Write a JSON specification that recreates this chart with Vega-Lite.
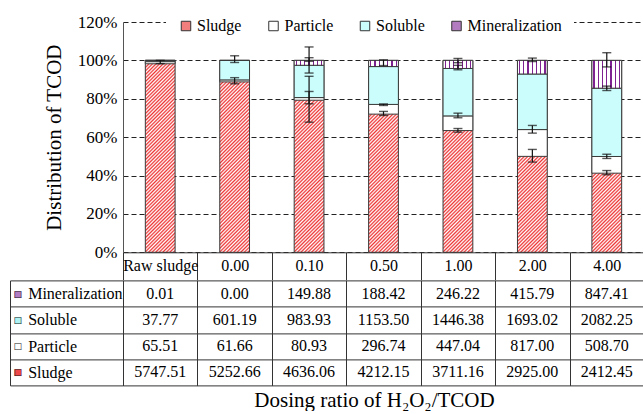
{
  "$schema": "https://vega.github.io/schema/vega-lite/v6.json",
  "padding": {"left": 9, "top": 6, "right": 0, "bottom": 0},
  "background": "white",
  "config": {
    "view": {"stroke": null},
    "font": "'Liberation Serif', 'Times New Roman', serif",
    "axis": {"labelFont": "'Liberation Serif', 'Times New Roman', serif", "titleFont": "'Liberation Serif', 'Times New Roman', serif", "labelColor": "#000", "titleColor": "#000", "titleFontWeight": "normal", "labelOverlap": false},
    "legend": {"labelFont": "'Liberation Serif', 'Times New Roman', serif"},
    "text": {"font": "'Liberation Serif', 'Times New Roman', serif"}
  },
  "datasets": {
    "dist": [
      {"dose": "Raw sludge", "component": "Sludge", "order": 1, "pct": 98.23, "value": 5747.51},
      {"dose": "Raw sludge", "component": "Particle", "order": 2, "pct": 1.12, "value": 65.51},
      {"dose": "Raw sludge", "component": "Soluble", "order": 3, "pct": 0.65, "value": 37.77},
      {"dose": "Raw sludge", "component": "Mineralization", "order": 4, "pct": 0.0, "value": 0.01},
      {"dose": "0.00", "component": "Sludge", "order": 1, "pct": 88.79, "value": 5252.66},
      {"dose": "0.00", "component": "Particle", "order": 2, "pct": 1.04, "value": 61.66},
      {"dose": "0.00", "component": "Soluble", "order": 3, "pct": 10.16, "value": 601.19},
      {"dose": "0.00", "component": "Mineralization", "order": 4, "pct": 0.0, "value": 0.0},
      {"dose": "0.10", "component": "Sludge", "order": 1, "pct": 79.24, "value": 4636.06},
      {"dose": "0.10", "component": "Particle", "order": 2, "pct": 1.38, "value": 80.93},
      {"dose": "0.10", "component": "Soluble", "order": 3, "pct": 16.82, "value": 983.93},
      {"dose": "0.10", "component": "Mineralization", "order": 4, "pct": 2.56, "value": 149.88},
      {"dose": "0.50", "component": "Sludge", "order": 1, "pct": 71.99, "value": 4212.15},
      {"dose": "0.50", "component": "Particle", "order": 2, "pct": 5.07, "value": 296.74},
      {"dose": "0.50", "component": "Soluble", "order": 3, "pct": 19.72, "value": 1153.5},
      {"dose": "0.50", "component": "Mineralization", "order": 4, "pct": 3.22, "value": 188.42},
      {"dose": "1.00", "component": "Sludge", "order": 1, "pct": 63.43, "value": 3711.16},
      {"dose": "1.00", "component": "Particle", "order": 2, "pct": 7.64, "value": 447.04},
      {"dose": "1.00", "component": "Soluble", "order": 3, "pct": 24.72, "value": 1446.38},
      {"dose": "1.00", "component": "Mineralization", "order": 4, "pct": 4.21, "value": 246.22},
      {"dose": "2.00", "component": "Sludge", "order": 1, "pct": 49.99, "value": 2925.0},
      {"dose": "2.00", "component": "Particle", "order": 2, "pct": 13.96, "value": 817.0},
      {"dose": "2.00", "component": "Soluble", "order": 3, "pct": 28.94, "value": 1693.02},
      {"dose": "2.00", "component": "Mineralization", "order": 4, "pct": 7.11, "value": 415.79},
      {"dose": "4.00", "component": "Sludge", "order": 1, "pct": 41.23, "value": 2412.45},
      {"dose": "4.00", "component": "Particle", "order": 2, "pct": 8.69, "value": 508.7},
      {"dose": "4.00", "component": "Soluble", "order": 3, "pct": 35.59, "value": 2082.25},
      {"dose": "4.00", "component": "Mineralization", "order": 4, "pct": 14.48, "value": 847.41}
    ],
    "err": [
      {"dose": "Raw sludge", "lo": 98.3, "hi": 100.0},
      {"dose": "0.00", "lo": 87.8, "hi": 91.0},
      {"dose": "0.00", "lo": 98.9, "hi": 102.4},
      {"dose": "0.10", "lo": 67.8, "hi": 91.7},
      {"dose": "0.10", "lo": 77.4, "hi": 83.8},
      {"dose": "0.10", "lo": 93.4, "hi": 101.4},
      {"dose": "0.10", "lo": 99.5, "hi": 107.0},
      {"dose": "0.50", "lo": 71.3, "hi": 73.4},
      {"dose": "0.50", "lo": 76.5, "hi": 77.3},
      {"dose": "0.50", "lo": 97.3, "hi": 100.3},
      {"dose": "1.00", "lo": 62.6, "hi": 64.5},
      {"dose": "1.00", "lo": 70.1, "hi": 72.5},
      {"dose": "1.00", "lo": 95.1, "hi": 97.4},
      {"dose": "1.00", "lo": 98.8, "hi": 101.0},
      {"dose": "2.00", "lo": 47.0, "hi": 53.6},
      {"dose": "2.00", "lo": 62.1, "hi": 66.1},
      {"dose": "2.00", "lo": 99.4, "hi": 101.2},
      {"dose": "4.00", "lo": 40.4, "hi": 42.6},
      {"dose": "4.00", "lo": 48.9, "hi": 51.1},
      {"dose": "4.00", "lo": 84.3, "hi": 86.6},
      {"dose": "4.00", "lo": 96.6, "hi": 104.0}
    ]
  },
  "spacing": 27.4,
  "bounds": "flush",
  "resolve": {"scale": {"color": "independent"}, "legend": {"color": "independent"}},
  "vconcat": [
    {
      "width": 521,
      "height": 230.3,
      "data": {"name": "dist"},
      "encoding": {
        "x": {
          "field": "dose", "type": "nominal",
          "scale": {"domain": ["Raw sludge", "0.00", "0.10", "0.50", "1.00", "2.00", "4.00"], "paddingInner": 0, "paddingOuter": 0},
          "axis": {"title": null, "labelFontSize": 16, "labelAngle": 0, "tickBand": "extent", "tickSize": 27.4, "tickColor": "#333", "tickWidth": 1, "domainColor": "#333", "domainWidth": 1, "labelPadding": -22.5, "grid": false}
        }
      },
      "layer": [
        {
          "transform": [
            {"joinaggregate": [{"op": "sum", "field": "pct", "as": "total"}], "groupby": ["dose"]},
            {"filter": "datum.component === 'Sludge'"}
          ],
          "mark": {
            "type": "bar",
            "width": {"band": 0.4},
            "stroke": "#3a3a3a",
            "strokeWidth": 1,
            "fill": {
              "gradient": "linear", "x1": 0, "y1": 0, "x2": 0.175, "y2": 1.128,
              "stops": [
                {"offset": 0, "color": "#ee3434"}, {"offset": 0.008, "color": "#ffffff"}, {"offset": 0.016, "color": "#ee3434"}, {"offset": 0.024, "color": "#ffffff"}, {"offset": 0.032, "color": "#ee3434"}, {"offset": 0.04, "color": "#ffffff"}, {"offset": 0.048, "color": "#ee3434"}, {"offset": 0.056, "color": "#ffffff"}, {"offset": 0.064, "color": "#ee3434"}, {"offset": 0.072, "color": "#ffffff"},
                {"offset": 0.08, "color": "#ee3434"}, {"offset": 0.088, "color": "#ffffff"}, {"offset": 0.096, "color": "#ee3434"}, {"offset": 0.104, "color": "#ffffff"}, {"offset": 0.112, "color": "#ee3434"}, {"offset": 0.12, "color": "#ffffff"}, {"offset": 0.128, "color": "#ee3434"}, {"offset": 0.136, "color": "#ffffff"}, {"offset": 0.144, "color": "#ee3434"}, {"offset": 0.152, "color": "#ffffff"},
                {"offset": 0.16, "color": "#ee3434"}, {"offset": 0.168, "color": "#ffffff"}, {"offset": 0.176, "color": "#ee3434"}, {"offset": 0.184, "color": "#ffffff"}, {"offset": 0.192, "color": "#ee3434"}, {"offset": 0.2, "color": "#ffffff"}, {"offset": 0.208, "color": "#ee3434"}, {"offset": 0.216, "color": "#ffffff"}, {"offset": 0.224, "color": "#ee3434"}, {"offset": 0.232, "color": "#ffffff"},
                {"offset": 0.24, "color": "#ee3434"}, {"offset": 0.248, "color": "#ffffff"}, {"offset": 0.256, "color": "#ee3434"}, {"offset": 0.264, "color": "#ffffff"}, {"offset": 0.272, "color": "#ee3434"}, {"offset": 0.28, "color": "#ffffff"}, {"offset": 0.288, "color": "#ee3434"}, {"offset": 0.296, "color": "#ffffff"}, {"offset": 0.304, "color": "#ee3434"}, {"offset": 0.312, "color": "#ffffff"},
                {"offset": 0.32, "color": "#ee3434"}, {"offset": 0.328, "color": "#ffffff"}, {"offset": 0.336, "color": "#ee3434"}, {"offset": 0.344, "color": "#ffffff"}, {"offset": 0.352, "color": "#ee3434"}, {"offset": 0.36, "color": "#ffffff"}, {"offset": 0.368, "color": "#ee3434"}, {"offset": 0.376, "color": "#ffffff"}, {"offset": 0.384, "color": "#ee3434"}, {"offset": 0.392, "color": "#ffffff"},
                {"offset": 0.4, "color": "#ee3434"}, {"offset": 0.408, "color": "#ffffff"}, {"offset": 0.416, "color": "#ee3434"}, {"offset": 0.424, "color": "#ffffff"}, {"offset": 0.432, "color": "#ee3434"}, {"offset": 0.44, "color": "#ffffff"}, {"offset": 0.448, "color": "#ee3434"}, {"offset": 0.456, "color": "#ffffff"}, {"offset": 0.464, "color": "#ee3434"}, {"offset": 0.472, "color": "#ffffff"},
                {"offset": 0.48, "color": "#ee3434"}, {"offset": 0.488, "color": "#ffffff"}, {"offset": 0.496, "color": "#ee3434"}, {"offset": 0.504, "color": "#ffffff"}, {"offset": 0.512, "color": "#ee3434"}, {"offset": 0.52, "color": "#ffffff"}, {"offset": 0.528, "color": "#ee3434"}, {"offset": 0.536, "color": "#ffffff"}, {"offset": 0.544, "color": "#ee3434"}, {"offset": 0.552, "color": "#ffffff"},
                {"offset": 0.56, "color": "#ee3434"}, {"offset": 0.568, "color": "#ffffff"}, {"offset": 0.576, "color": "#ee3434"}, {"offset": 0.584, "color": "#ffffff"}, {"offset": 0.592, "color": "#ee3434"}, {"offset": 0.6, "color": "#ffffff"}, {"offset": 0.608, "color": "#ee3434"}, {"offset": 0.616, "color": "#ffffff"}, {"offset": 0.624, "color": "#ee3434"}, {"offset": 0.632, "color": "#ffffff"},
                {"offset": 0.64, "color": "#ee3434"}, {"offset": 0.648, "color": "#ffffff"}, {"offset": 0.656, "color": "#ee3434"}, {"offset": 0.664, "color": "#ffffff"}, {"offset": 0.672, "color": "#ee3434"}, {"offset": 0.68, "color": "#ffffff"}, {"offset": 0.688, "color": "#ee3434"}, {"offset": 0.696, "color": "#ffffff"}, {"offset": 0.704, "color": "#ee3434"}, {"offset": 0.712, "color": "#ffffff"},
                {"offset": 0.72, "color": "#ee3434"}, {"offset": 0.728, "color": "#ffffff"}, {"offset": 0.736, "color": "#ee3434"}, {"offset": 0.744, "color": "#ffffff"}, {"offset": 0.752, "color": "#ee3434"}, {"offset": 0.76, "color": "#ffffff"}, {"offset": 0.768, "color": "#ee3434"}, {"offset": 0.776, "color": "#ffffff"}, {"offset": 0.784, "color": "#ee3434"}, {"offset": 0.792, "color": "#ffffff"},
                {"offset": 0.8, "color": "#ee3434"}, {"offset": 0.808, "color": "#ffffff"}, {"offset": 0.816, "color": "#ee3434"}, {"offset": 0.824, "color": "#ffffff"}, {"offset": 0.832, "color": "#ee3434"}, {"offset": 0.84, "color": "#ffffff"}, {"offset": 0.848, "color": "#ee3434"}, {"offset": 0.856, "color": "#ffffff"}, {"offset": 0.864, "color": "#ee3434"}, {"offset": 0.872, "color": "#ffffff"},
                {"offset": 0.88, "color": "#ee3434"}, {"offset": 0.888, "color": "#ffffff"}, {"offset": 0.896, "color": "#ee3434"}, {"offset": 0.904, "color": "#ffffff"}, {"offset": 0.912, "color": "#ee3434"}, {"offset": 0.92, "color": "#ffffff"}, {"offset": 0.928, "color": "#ee3434"}, {"offset": 0.936, "color": "#ffffff"}, {"offset": 0.944, "color": "#ee3434"}, {"offset": 0.952, "color": "#ffffff"},
                {"offset": 0.96, "color": "#ee3434"}, {"offset": 0.968, "color": "#ffffff"}, {"offset": 0.976, "color": "#ee3434"}, {"offset": 0.984, "color": "#ffffff"}, {"offset": 0.992, "color": "#ee3434"}, {"offset": 1, "color": "#ffffff"}
              ]
            }
          },
          "encoding": {
            "y": {
              "field": "total", "type": "quantitative",
              "scale": {"domain": [0, 120], "nice": false},
              "title": "Distribution of TCOD",
              "axis": {"values": [0, 20, 40, 60, 80, 100, 120], "tickCount": 7, "labelOverlap": false, "labelExpr": "datum.value + '%'", "labelFontSize": 17, "labelPadding": 6, "ticks": false, "domainColor": "#555", "grid": true, "gridDash": [5, 3], "gridColor": "#222", "gridWidth": 1.1, "titleFontSize": 21, "titlePadding": 13}
            },
            "y2": {"datum": 0}
          }
        },
        {
          "transform": [
            {"stack": "pct", "groupby": ["dose"], "sort": [{"field": "order", "order": "ascending"}], "as": ["y0", "y1"]},
            {"filter": "datum.component === 'Particle'"}
          ],
          "mark": {"type": "bar", "width": {"band": 0.4}, "fill": "#ffffff", "stroke": "#3a3a3a", "strokeWidth": 1},
          "encoding": {
            "y": {"field": "y1", "type": "quantitative", "title": "Distribution of TCOD"},
            "y2": {"field": "y0"}
          }
        },
        {
          "transform": [
            {"stack": "pct", "groupby": ["dose"], "sort": [{"field": "order", "order": "ascending"}], "as": ["y0", "y1"]},
            {"filter": "datum.component === 'Soluble'"}
          ],
          "mark": {"type": "bar", "width": {"band": 0.4}, "fill": "#ccfdfd", "stroke": "#3a3a3a", "strokeWidth": 1},
          "encoding": {
            "y": {"field": "y1", "type": "quantitative", "title": "Distribution of TCOD"},
            "y2": {"field": "y0"}
          }
        },
        {
          "transform": [
            {"stack": "pct", "groupby": ["dose"], "sort": [{"field": "order", "order": "ascending"}], "as": ["y0", "y1"]},
            {"filter": "datum.component === 'Mineralization'"}
          ],
          "mark": {
            "type": "bar", "width": {"band": 0.4}, "stroke": "#3a3a3a", "strokeWidth": 1,
            "fill": {
              "gradient": "linear", "x1": 0, "y1": 0, "x2": 1, "y2": 0,
              "stops": [
                {"offset": 0, "color": "#ffffff"}, {"offset": 0.05, "color": "#ffffff"}, {"offset": 0.05, "color": "#7d2290"}, {"offset": 0.093, "color": "#7d2290"}, {"offset": 0.093, "color": "#ffffff"},
                {"offset": 0.193, "color": "#ffffff"}, {"offset": 0.193, "color": "#7d2290"}, {"offset": 0.236, "color": "#7d2290"}, {"offset": 0.236, "color": "#ffffff"},
                {"offset": 0.336, "color": "#ffffff"}, {"offset": 0.336, "color": "#7d2290"}, {"offset": 0.379, "color": "#7d2290"}, {"offset": 0.379, "color": "#ffffff"},
                {"offset": 0.479, "color": "#ffffff"}, {"offset": 0.479, "color": "#7d2290"}, {"offset": 0.521, "color": "#7d2290"}, {"offset": 0.521, "color": "#ffffff"},
                {"offset": 0.621, "color": "#ffffff"}, {"offset": 0.621, "color": "#7d2290"}, {"offset": 0.664, "color": "#7d2290"}, {"offset": 0.664, "color": "#ffffff"},
                {"offset": 0.764, "color": "#ffffff"}, {"offset": 0.764, "color": "#7d2290"}, {"offset": 0.807, "color": "#7d2290"}, {"offset": 0.807, "color": "#ffffff"},
                {"offset": 0.907, "color": "#ffffff"}, {"offset": 0.907, "color": "#7d2290"}, {"offset": 0.95, "color": "#7d2290"}, {"offset": 0.95, "color": "#ffffff"},
                {"offset": 1, "color": "#ffffff"}
              ]
            }
          },
          "encoding": {
            "y": {"field": "y1", "type": "quantitative", "title": "Distribution of TCOD"},
            "y2": {"field": "y0"}
          }
        },
        {
          "mark": {"type": "square", "opacity": 0, "filled": true},
          "encoding": {
            "y": {"field": "pct", "type": "quantitative", "title": "Distribution of TCOD"},
            "color": {
              "field": "component", "type": "nominal",
              "scale": {"domain": ["Sludge", "Particle", "Soluble", "Mineralization"], "range": ["#f37e7e", "#ffffff", "#ccfdfd", "#b47cc0"]},
              "legend": {
                "orient": "none", "legendX": 43, "legendY": -16, "direction": "horizontal", "title": null,
                "symbolType": "square", "symbolSize": 90, "symbolStrokeColor": "#333", "symbolStrokeWidth": 1, "symbolOpacity": 1,
                "labelFontSize": 16, "labelColor": "#000", "labelOffset": 3, "columnPadding": 23.5,
                "fillColor": "#ffffff", "padding": 12
              }
            }
          }
        },
        {
          "data": {"name": "err"},
          "mark": {"type": "rule", "color": "#111", "strokeWidth": 1.2},
          "encoding": {
            "y": {"field": "lo", "type": "quantitative", "title": "Distribution of TCOD"},
            "y2": {"field": "hi"}
          }
        },
        {
          "data": {"name": "err"},
          "mark": {"type": "tick", "color": "#111", "size": 9, "thickness": 1.4},
          "encoding": {
            "y": {"field": "lo", "type": "quantitative", "title": "Distribution of TCOD"}
          }
        },
        {
          "data": {"name": "err"},
          "mark": {"type": "tick", "color": "#111", "size": 9, "thickness": 1.4},
          "encoding": {
            "y": {"field": "hi", "type": "quantitative", "title": "Distribution of TCOD"}
          }
        }
      ]
    },
    {
      "width": 521,
      "height": 105,
      "data": {"name": "dist"},
      "resolve": {"axis": {"y": "independent"}},
      "layer": [
        {
          "mark": {"type": "text", "fontSize": 16, "color": "#000", "baseline": "middle"},
          "encoding": {
            "x": {
              "field": "dose", "type": "nominal",
              "scale": {"domain": ["Raw sludge", "0.00", "0.10", "0.50", "1.00", "2.00", "4.00"], "paddingInner": 0, "paddingOuter": 0},
              "axis": {"orient": "bottom", "tickBand": "extent", "grid": true, "gridColor": "#333", "gridWidth": 1, "labels": false, "ticks": false, "domain": false, "title": "Dosing ratio of H₂O₂/TCOD", "titleFontSize": 21, "titlePadding": 4, "titleX": 251}
            },
            "y": {
              "field": "component", "type": "nominal",
              "scale": {"domain": ["Mineralization", "Soluble", "Particle", "Sludge"], "paddingInner": 0, "paddingOuter": 0},
              "axis": {"orient": "left", "title": null, "tickBand": "extent", "tickSize": 113, "tickColor": "#333", "tickWidth": 1, "grid": true, "gridColor": "#333", "gridWidth": 1, "domain": true, "domainColor": "#333", "labelAlign": "left", "labelBaseline": "middle", "labelPadding": -17.7, "labelFontSize": 16}
            },
            "text": {"field": "value", "type": "quantitative", "format": ".2f"}
          }
        },
        {
          "mark": {"type": "text", "text": ""},
          "encoding": {
            "y": {
              "field": "component", "type": "nominal",
              "axis": {"orient": "left", "title": null, "offset": 113, "ticks": false, "grid": false, "domain": true, "domainColor": "#333", "labelExpr": "'■'", "labelFont": "DejaVu Sans", "labelFontSize": 9, "labelAlign": "left", "labelBaseline": "middle", "labelPadding": -3,
                "labelColor": {"condition": [
                  {"test": "datum.value === 'Mineralization'", "value": "#b47cc0"},
                  {"test": "datum.value === 'Soluble'", "value": "#aef2f2"},
                  {"test": "datum.value === 'Particle'", "value": "#ffffff"}
                ], "value": "#f04848"}
              }
            }
          }
        },
        {
          "mark": {"type": "text", "text": ""},
          "encoding": {
            "y": {
              "field": "component", "type": "nominal",
              "axis": {"orient": "left", "title": null, "offset": 113, "ticks": false, "grid": false, "domain": false, "labelExpr": "'□'", "labelFont": "DejaVu Sans", "labelFontSize": 9, "labelAlign": "left", "labelBaseline": "middle", "labelPadding": -3, "labelColor": "#222"}
            }
          }
        }
      ]
    }
  ]
}
